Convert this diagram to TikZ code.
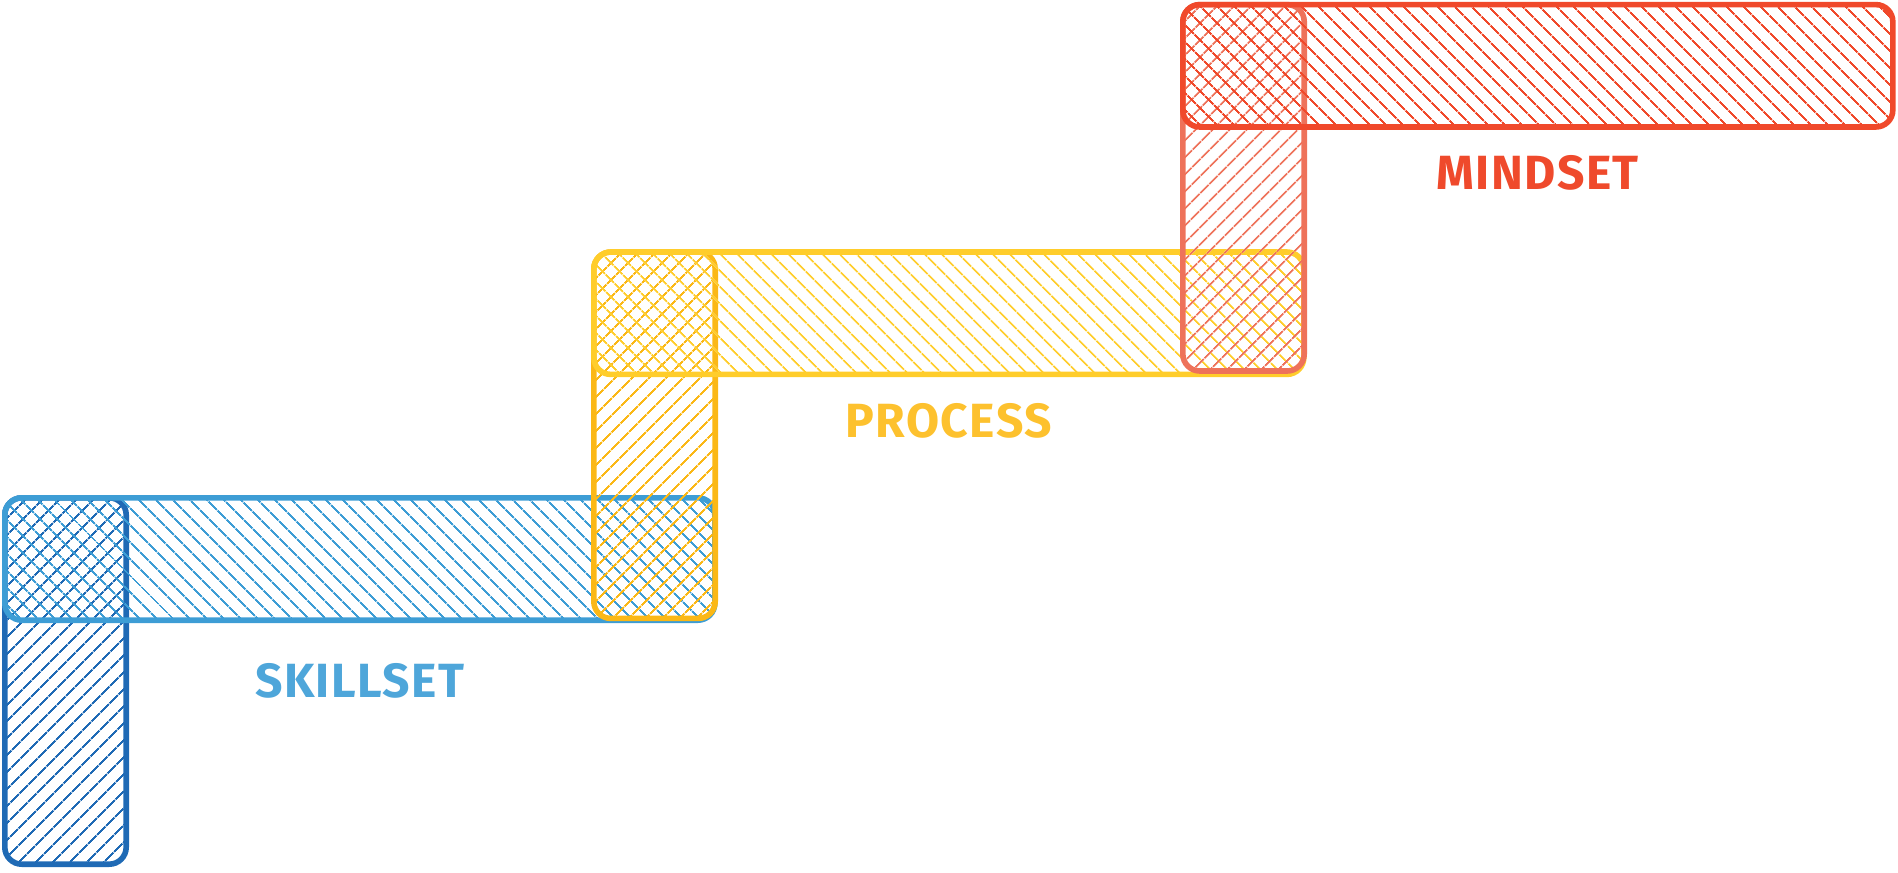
\documentclass[tikz,border=0pt]{standalone}
\usepackage{fontspec}
\newfontfamily\labelfont[LetterSpace=3]{Fira Sans}
\usetikzlibrary{positioning}
\usetikzlibrary{patterns.meta}

\definecolor{skillblue}{HTML}{3D9DD5}
\definecolor{skilldark}{HTML}{1F6AB5}
\definecolor{skilltext}{HTML}{4EA6DA}
\definecolor{procyellow}{HTML}{FFCD2B}
\definecolor{procorange}{HTML}{FBB816}
\definecolor{proctext}{HTML}{FDC12E}
\definecolor{mindred}{HTML}{F0492B}
\definecolor{mindsalmon}{HTML}{EE725A}
\definecolor{mindtext}{HTML}{EF4A2C}

\begin{document}
\begin{tikzpicture}[
    x=0.5pt, y=-0.5pt,
    bar/.style={rounded corners=8.5pt, line width=2.8pt, inner sep=0pt, outer sep=0pt, anchor=north west},
    hbar/.style={bar, minimum width=355pt, minimum height=61.2pt,
        pattern={Lines[angle=-45,distance=6.5pt,line width=1pt]}},
    vbar/.style={bar, minimum width=60.7pt, minimum height=183.2pt,
        pattern={Lines[angle=45,distance=6.5pt,line width=1pt]}},
    steplabel/.style={font=\labelfont\bfseries\fontsize{24}{29}\selectfont, inner sep=0pt, outer sep=0pt}
    ]
    \useasboundingbox (0,0) rectangle (1898,872);

    %Steps
    \node[vbar, draw=skilldark, pattern color=skilldark] (skillV) at (4.8,497.8) {};
    \node[hbar, draw=skillblue, pattern color=skillblue] (skillH) at (4.8,497.8) {};

    \node[vbar, draw=procorange, pattern color=procorange] (procV) at (593.8,252) {};
    \node[hbar, draw=procyellow, pattern color=procyellow] (procH) at (593.8,252) {};

    \node[vbar, draw=mindsalmon, pattern color=mindsalmon] (mindV) at (1182.8,4.6) {};
    \node[hbar, draw=mindred, pattern color=mindred] (mindH) at (1182.8,4.6) {};

    %Labels
    \node[steplabel, text=skilltext, below=21.4pt of skillH] (skill) {SKILLSET};
    \node[steplabel, text=proctext, below=14.3pt of procH] (proc) {PROCESS};
    \node[steplabel, text=mindtext, below=14pt of mindH] (mind) {MINDSET};

\end{tikzpicture}
\end{document}
